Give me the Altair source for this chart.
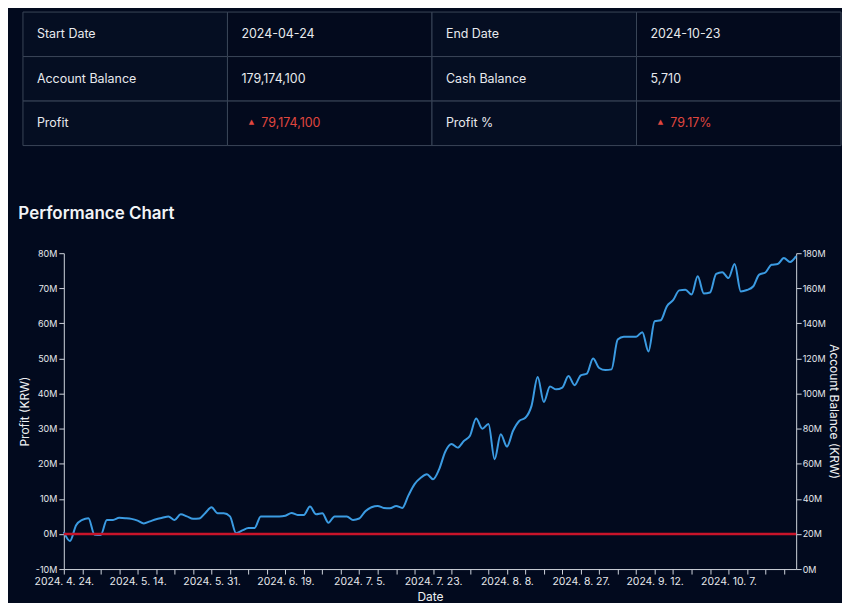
import json
import altair as alt
import pandas as pd

# ---------------- data ----------------
profit_m = [
    0.6, -2.0, 2.5, 4.0, 4.5, -0.2, -0.3, 4.0, 4.0, 4.6,
    4.5, 4.3, 3.8, 3.0, 3.6, 4.2, 4.6, 5.0, 4.0, 5.6,
    5.0, 4.3, 4.4, 6.0, 7.6, 5.9, 5.9, 5.0, 0.2, 1.0,
    1.7, 1.7, 5.0, 5.0, 5.0, 5.0, 5.2, 6.0, 5.4, 5.4,
    7.8, 5.6, 5.9, 3.2, 5.0, 5.0, 5.0, 4.0, 4.4, 6.5,
    7.6, 8.0, 7.4, 7.3, 8.0, 7.4, 11.0, 14.2, 16.0, 17.0,
    15.6, 18.5, 23.5, 25.6, 24.6, 26.5, 28.0, 32.9, 30.0, 31.3,
    21.3, 28.4, 24.9, 29.4, 32.2, 33.1, 36.5, 44.7, 37.6, 42.0,
    41.2, 41.7, 45.0, 42.4, 45.2, 45.7, 50.0, 47.3, 46.7, 46.9,
    55.4, 56.2, 56.2, 56.2, 57.5, 52.0, 60.6, 60.9, 64.9, 66.6,
    69.4, 69.6, 68.2, 73.4, 68.5, 68.8, 74.1, 74.6, 72.9, 76.9,
    69.1, 69.5, 70.5, 73.9, 74.5, 76.7, 76.9, 78.6, 77.5, 79.17,
]
krx_holidays = ["2024-05-01", "2024-05-06", "2024-05-15", "2024-06-06",
                "2024-08-15", "2024-09-16", "2024-09-17", "2024-09-18",
                "2024-10-01", "2024-10-03", "2024-10-09"]
trading_days = pd.bdate_range("2024-04-24", "2024-10-23", freq="C",
                              holidays=krx_holidays)
n = min(len(trading_days), len(profit_m))
tick_labels = [f"{d.year}. {d.month}. {d.day}." for d in trading_days[:n:12]]

table_rows = [
    ["Start Date", "2024-04-24", "End Date", "2024-10-23"],
    ["Account Balance", "179,174,100", "Cash Balance", "5,710"],
    ["Profit", "79,174,100", "Profit %", "79.17%"],
]
up_cells = {(2, 1), (2, 3)}

# ---------------- style ----------------
BG = "#020a1e"
FONT = "Inter"
TXT = "#e8eaee"
PLOT_W = 735

# ---------------- table ----------------
recs = []
for r, row in enumerate(table_rows):
    for c, t in enumerate(row):
        kind = "up" if (r, c) in up_cells else ("label" if c % 2 == 0 else "value")
        recs.append({"row": r, "col": c, "text": t, "kind": kind,
                     "bg": "label" if c % 2 == 0 else "value"})
tdf = pd.DataFrame(recs)

xs = alt.Scale(paddingInner=0, paddingOuter=0, range=[-41, 780])
ys = alt.Scale(paddingInner=0, paddingOuter=0)
tbase = alt.Chart(tdf).encode(
    y=alt.Y("row:O", axis=None, scale=ys),
)
cells = tbase.mark_rect(stroke="#3a4557", strokeWidth=1).encode(
    x=alt.X("col:O", axis=None, scale=xs),
    fill=alt.Fill("bg:N", legend=None,
                  scale=alt.Scale(domain=["label", "value"],
                                  range=["#050e22", "#030a1d"])),
)
plain = tbase.transform_filter("datum.kind != 'up'").mark_text(
    align="left", baseline="middle", dx=14, font=FONT, fontSize=12.5,
    color=TXT).encode(
    x=alt.X("col:O", axis=None, scale=xs, bandPosition=0),
    text="text:N")
up_tri = tbase.transform_filter("datum.kind == 'up'").mark_text(
    align="center", baseline="middle", dx=24, dy=-1, font="DejaVu Sans",
    fontSize=7, color="#e0473f", text="▲").encode(
    x=alt.X("col:O", axis=None, scale=xs, bandPosition=0))
up_txt = tbase.transform_filter("datum.kind == 'up'").mark_text(
    align="left", baseline="middle", dx=34, font=FONT, fontSize=12.5,
    color="#e0473f").encode(
    x=alt.X("col:O", axis=None, scale=xs, bandPosition=0),
    text="text:N")
table = alt.layer(cells, plain, up_tri, up_txt).properties(width=PLOT_W, height=134)

# ---------------- performance chart ----------------
df = pd.DataFrame({"i": list(range(n)), "profit": profit_m[:n]})
df["balance"] = df["profit"] + 100

label_expr = ("datum.value % 12 == 0 ? " + json.dumps(tick_labels, ensure_ascii=False)
              + "[datum.value / 12] : ''")
x_enc = alt.X("i:Q", scale=alt.Scale(domain=[0, n - 1], nice=False, zero=False),
              axis=alt.Axis(values=list(range(0, n, 3)), labelExpr=label_expr,
                            title="Date", labelFontSize=10.5, labelFlush=False,
                            labelOverlap=False, labelPadding=3, titlePadding=4,
                            titleFontSize=12, grid=False))

y_left = alt.Y("profit:Q",
               scale=alt.Scale(domain=[-10, 80], nice=False, zero=False),
               axis=alt.Axis(values=list(range(-10, 90, 10)),
                             labelExpr="datum.value + 'M'", title="Profit (KRW)",
                             grid=False, titlePadding=4, labelPadding=2))
line = alt.Chart(df).mark_line(color="#3b9be2", strokeWidth=2,
                               interpolate="monotone").encode(x=x_enc, y=y_left)
zero = alt.Chart(pd.DataFrame({"profit": [0]})).mark_rule(
    color="#c8142a", strokeWidth=2.5).encode(y=y_left)

y_right = alt.Y("balance:Q", scale=alt.Scale(domain=[0, 180], nice=False, zero=False),
                axis=alt.Axis(orient="right", values=list(range(0, 200, 20)),
                              labelExpr="datum.value + 'M'",
                              title="Account Balance (KRW)", grid=False,
                              titlePadding=1, labelPadding=1))
right = alt.Chart(df).mark_line(opacity=0).encode(x=x_enc, y=y_right)

perf = alt.layer(alt.layer(line, zero), right).resolve_scale(y="independent").properties(
    width=PLOT_W, height=317,
    title=alt.TitleParams("Performance Chart", anchor="start", frame="bounds",
                          fontSize=17, fontWeight=600, color="#f2f4f7",
                          font=FONT, offset=26),
)

chart = alt.vconcat(table, perf, spacing=58).properties(
    background=BG,
    padding={"left": 9, "top": 2, "right": 0, "bottom": 0},
).configure_view(stroke="transparent").configure_axis(
    domainColor="#cfd4dc", tickColor="#cfd4dc", labelColor="#e6e8ec",
    titleColor="#eef0f3", labelFont=FONT, titleFont=FONT, labelFontSize=9,
    titleFontSize=12, titleFontWeight="normal", tickSize=5, domainWidth=1,
)

chart.save("out.html", embed_options={"renderer": "svg", "actions": False})
